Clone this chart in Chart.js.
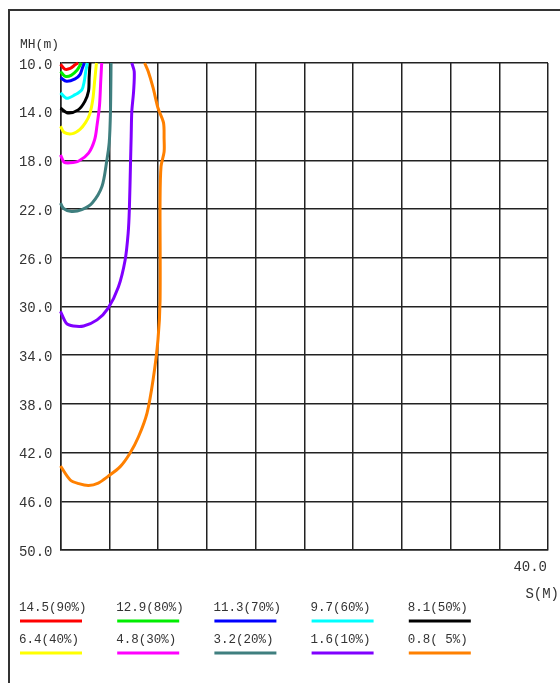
<!DOCTYPE html>
<html>
<head>
<meta charset="utf-8">
<script src="https://cdn.jsdelivr.net/npm/chart.js@4/dist/chart.umd.min.js"></script>
<style>
  html, body { margin: 0; padding: 0; background: #fff; }
  #wrap { position: relative; width: 560px; height: 683px; }
  #frame { position: absolute; left: 8px; top: 9px; width: 560px; height: 700px;
           border-top: 2px solid #333; border-left: 2px solid #333; pointer-events: none; }
  canvas { position: absolute; left: 0; top: 0; }
</style>
</head>
<body>
<div id="wrap">
  <canvas id="chart" width="560" height="683"></canvas>
  <div id="frame"></div>
</div>
<script>
// Contour curves: distance S (m) vs mounting height MH (m)
const seriesLabels = ['14.5(90%)', '12.9(80%)', '11.3(70%)', '9.7(60%)', '8.1(50%)',
                      '6.4(40%)', '4.8(30%)', '3.2(20%)', '1.6(10%)', '0.8( 5%)'];
const seriesColors = ['#ff0000', '#00ee00', '#0000ff', '#00ffff', '#000000',
                      '#ffff00', '#ff00ff', '#3f7f7f', '#8000ff', '#ff8000'];

const curve90 = [[0, 10.1], [0.35, 10.5], [0.8, 10.45], [1.2, 10.15], [1.45, 10.0]];
const curve80 = [[0, 10.7], [0.4, 11.1], [0.9, 11.0], [1.35, 10.6], [1.6, 10.2], [1.7, 10.0]];
const curve70 = [[0, 11.2], [0.5, 11.5], [1.2, 11.3], [1.6, 10.95], [1.8, 10.4], [1.95, 10.0]];
const curve60 = [[0, 12.45], [0.5, 12.9], [1.2, 12.6], [1.75, 12.2], [1.95, 11.5], [2.07, 10.7], [2.2, 10.0]];
const curve50 = [[0, 13.7], [0.6, 14.1], [1.45, 13.85], [2.0, 13.15], [2.3, 12.3], [2.35, 11.2], [2.42, 10.0]];
const curve40 = [[0, 15.2], [0.3, 15.7], [1.0, 15.8], [1.6, 15.45], [2.05, 14.9], [2.4, 14.2],
                 [2.65, 13.0], [2.8, 11.5], [2.95, 10.0]];
const curve30 = [[0, 17.55], [0.3, 18.15], [0.8, 18.2], [1.5, 18.05], [2.3, 17.4], [2.8, 16.3],
                 [3.0, 15.1], [3.2, 13.5], [3.3, 11.5], [3.38, 10.0]];
const curve20 = [[0, 21.5], [0.25, 21.95], [0.9, 22.2], [1.75, 22.05], [2.6, 21.5], [3.4, 20.15],
                 [3.8, 18.0], [4.0, 16.5], [4.1, 14.0], [4.15, 10.0]];
const curve10 = [[0, 30.4], [0.5, 31.4], [1.05, 31.6], [1.9, 31.6], [3.0, 31.1], [3.9, 30.15],
                 [4.75, 28.4], [5.3, 26.2], [5.55, 24.0], [5.65, 22.0], [5.75, 18.0], [5.8, 16.0],
                 [5.85, 14.0], [6.0, 12.3], [6.05, 10.7], [5.85, 10.0]];
const curve5 = [[0, 43.1], [0.8, 44.25], [1.5, 44.55], [2.3, 44.7], [3.1, 44.5], [3.9, 43.95],
                [4.9, 43.15], [5.7, 42.05], [6.4, 40.7], [7.1, 38.75], [7.6, 36.0], [8.0, 32.7],
                [8.17, 29.5], [8.17, 21.2], [8.25, 18.5], [8.5, 17.3], [8.5, 16.2], [8.45, 14.9],
                [8.0, 13.7], [7.6, 12.05], [7.2, 10.7], [6.9, 10.0]];

const curves = [curve90, curve80, curve70, curve60, curve50, curve40, curve30, curve20, curve10, curve5];

// axis ranges / tick labels
const xMin = 0, xMax = 40, xStep = 4;
const yMin = 10, yMax = 50, yStep = 4;
const xTickLabel = '40.0';
const xTitle = 'S(M)';
const yTitle = 'MH(m)';

const FONT = '"Liberation Mono", "DejaVu Sans Mono", monospace';
const TEXT = '#333';

// Draws axis titles, the lone x tick label and the two-row legend
const annotations = {
    id: 'annotations',
    afterDraw(chart) {
        const ctx = chart.ctx;
        const area = chart.chartArea;
        ctx.save();
        ctx.fillStyle = TEXT;
        ctx.textBaseline = 'middle';

        ctx.font = '13px ' + FONT;
        ctx.textAlign = 'left';
        ctx.fillText(yTitle, 20, 45);

        ctx.font = '14px ' + FONT;
        ctx.textAlign = 'right';
        ctx.fillText(xTickLabel, area.right - 1, 567);
        ctx.fillText(xTitle, 559, 594);

        // legend
        ctx.font = '12.5px ' + FONT;
        ctx.textAlign = 'left';
        seriesLabels.forEach((label, i) => {
            const col = i % 5;
            const row = Math.floor(i / 5);
            const x = 19 + col * 97.2;
            const ty = 608 + row * 32;
            ctx.fillStyle = TEXT;
            ctx.fillText(label, x, ty);
            ctx.strokeStyle = seriesColors[i];
            ctx.lineWidth = 3;
            ctx.beginPath();
            ctx.moveTo(x + 1, ty + 13);
            ctx.lineTo(x + 63, ty + 13);
            ctx.stroke();
        });
        ctx.restore();
    }
};

const ctx = document.getElementById('chart').getContext('2d');
new Chart(ctx, {
    type: 'scatter',
    data: {
        datasets: curves.map((pts, i) => ({
            label: seriesLabels[i],
            data: pts.map(p => ({ x: p[0], y: p[1] })),
            showLine: true,
            borderColor: seriesColors[i],
            borderWidth: 3,
            pointRadius: 0,
            tension: 0.3,
            clip: false
        }))
    },
    options: {
        responsive: false,
        animation: false,
        layout: { padding: { top: 63, right: 12, bottom: 133, left: 0 } },
        plugins: {
            legend: { display: false },
            tooltip: { enabled: false }
        },
        scales: {
            x: {
                type: 'linear',
                min: xMin,
                max: xMax,
                ticks: { display: false, stepSize: xStep },
                grid: { color: '#222', lineWidth: 1.5, drawTicks: false },
                border: { color: '#222', width: 1.5 },
                afterFit: s => { s.height = 0; }
            },
            y: {
                type: 'linear',
                reverse: true,
                min: yMin,
                max: yMax,
                ticks: {
                    stepSize: yStep,
                    padding: 8,
                    labelOffset: 2,
                    color: TEXT,
                    font: { family: FONT, size: 14 },
                    callback: v => v.toFixed(1)
                },
                grid: { color: '#222', lineWidth: 1.5, drawTicks: false },
                border: { color: '#222', width: 1.5 },
                afterFit: s => { s.width = 60.5; }
            }
        }
    },
    plugins: [annotations]
});
</script>
</body>
</html>
